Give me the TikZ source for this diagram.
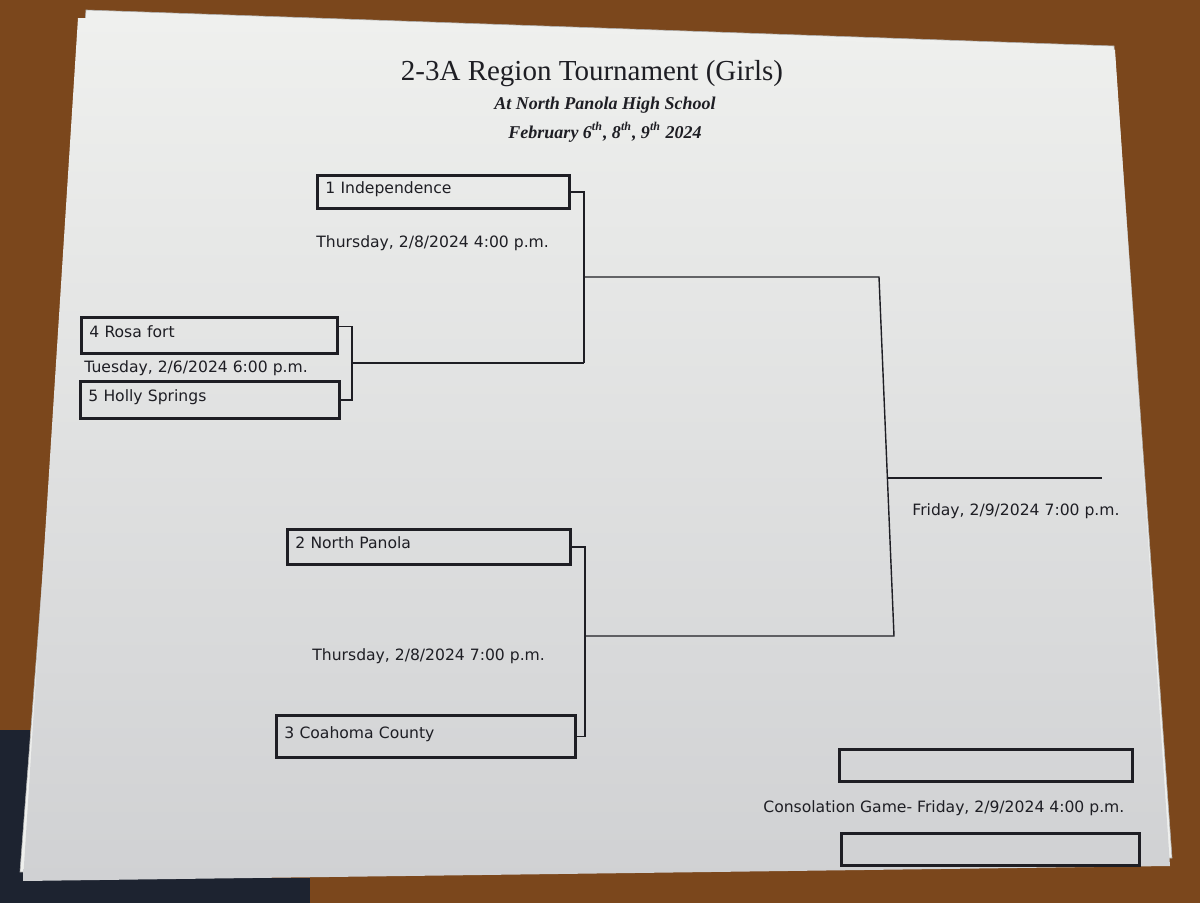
\documentclass[tikz,border=0pt]{standalone}
\usepackage{fontspec}
\setmainfont{Liberation Serif}
\setsansfont{DejaVu Sans}
\usepackage{xcolor}
\usepackage{tikz}
\usetikzlibrary{positioning}
\definecolor{wood}{HTML}{7B471C}
\definecolor{deskdark}{HTML}{1D2330}
\definecolor{paperhi}{HTML}{EFF0EE}
\definecolor{paperlo}{HTML}{D0D1D3}
\definecolor{ink}{HTML}{1E1E24}
\tikzset{
  team/.style 2 args={draw=ink, line width=1.4pt, anchor=north west, text=ink,
              text width=#1, minimum height=#2, inner xsep=4pt, align=left,
              text depth=4pt, font=\sffamily\fontsize{7.8}{9}\selectfont},
  when/.style={anchor=west, text=ink, inner sep=0pt, font=\sffamily\fontsize{7.8}{9}\selectfont},
  link/.style={draw=ink, line width=0.7pt},
  heading/.style={text=ink, inner sep=0pt, font=#1}
}

\begin{document}
\begin{tikzpicture}[x=0.5pt, y=-0.5pt]
  % desk and sheets
  \fill[wood] (0,0) rectangle (1200,903);
  \fill[deskdark] (0,730) rectangle (30,903);
  \fill[deskdark] (0,878) rectangle (310,903);
  \filldraw[fill=paperhi, draw=gray!60, line width=0.3pt]
    (86,10) -- (1114,46) -- (1172,858) -- (20,872) -- cycle;
  \shade[top color=paperhi, bottom color=paperlo]
    (78,18) -- (1115,50) -- (1170,866) -- (23,881) -- cycle;

  % heading
  \node[heading=\fontsize{14.5}{16}\selectfont] (title) at (592,74) {2-3A Region Tournament (Girls)};
  \node[heading=\bfseries\itshape\fontsize{9}{11}\selectfont] (venue) at (605,105) {At North Panola High School};
  \node[heading=\bfseries\itshape\fontsize{9}{11}\selectfont] (dates) at (605,132)
    {February 6\textsuperscript{th}, 8\textsuperscript{th}, 9\textsuperscript{th} 2024};

  % teams
  \node[team={118pt}{16.5pt}] (indep) at (316,174) {1 Independence};
  \node[team={120pt}{18pt}] (rosa) at (80,316) {4 Rosa fort};
  \node[team={121.5pt}{18.5pt}] (holly) at (79,380) {5 Holly Springs};
  \node[team={133.5pt}{17.5pt}] (npanola) at (286,528) {2 North Panola};
  \node[team={141.5pt}{21pt}] (coahoma) at (275,714) {3 Coahoma County};
  \node[team={138.5pt}{16pt}] (cons1) at (838,748) {};
  \node[team={141pt}{16pt}] (cons2) at (840,832) {};

  % game times
  \node[when] (thu4) at (316,243) {Thursday, 2/8/2024 4:00 p.m.};
  \node[when] (tue) at (84,368) {Tuesday, 2/6/2024 6:00 p.m.};
  \node[when] (thu7) at (312,656) {Thursday, 2/8/2024 7:00 p.m.};
  \node[when] (fri) at (912,511) {Friday, 2/9/2024 7:00 p.m.};
  \node[when] (cons) at (763,808) {Consolation Game- Friday, 2/9/2024 4:00 p.m.};

  % bracket joints
  \coordinate (q0) at (352,363);
  \coordinate (q1) at (584,363);
  \coordinate (s1) at (584,277);
  \coordinate (s1r) at (879,277);
  \coordinate (s2) at (585,636);
  \coordinate (s2r) at (894,636);
  \coordinate (fin) at (887,478);
  \coordinate (finr) at (1102,478);

  \draw[link] ([yshift=4.5pt]rosa.east) -| (q0);
  \draw[link] (holly.east) -| (q0);
  \draw[link] (q0) -- (q1);
  \draw[link] (indep.east) -| (q1);
  \draw[link] (s1) -- (s1r) -- (s2r) -- (s2);
  \draw[link] (npanola.east) -| (s2);
  \draw[link] (coahoma.east) -| (s2);
  \draw[link] (fin) -- (finr);
\end{tikzpicture}
\end{document}
